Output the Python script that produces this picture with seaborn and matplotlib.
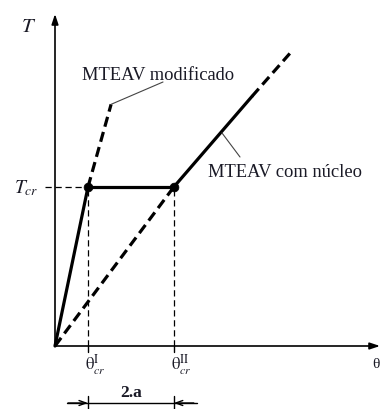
import matplotlib
matplotlib.use("Agg")
import matplotlib.pyplot as plt
import seaborn as sns
import pandas as pd

# Critical rotations / torque (normalised units)
theta_cr = [1.0, 3.6]          # θ_cr^I, θ_cr^II
T_cr = 1.0

# Modified MTEAV: solid branch up to T_cr, dashed continuation
mod_solid_theta = [0.0, 1.0]
mod_solid_T = [0.0, 1.0]
mod_dash_theta = [1.0, 1.70]
mod_dash_T = [1.0, 1.52]

# MTEAV with core: dashed elastic branch, plateau, solid and dashed continuation
core_dash_theta = [0.0, 3.6]
core_dash_T = [0.0, 1.0]
plateau_theta = [1.0, 3.6]
plateau_T = [1.0, 1.0]
core_solid_theta = [3.6, 5.97]
core_solid_T = [1.0, 1.57]
core_tail_theta = [5.97, 7.18]
core_tail_T = [1.57, 1.855]

sns.set_style("white")
plt.rcParams["font.family"] = ["Liberation Serif", "DejaVu Serif"]
plt.rcParams["mathtext.fontset"] = "stix"

W, H = 382, 410
fig = plt.figure(figsize=(W / 100, H / 100), dpi=100)
ax = fig.add_axes([0, 0, 1, 1])
# scale: 33 px per θ unit, 159 px per T unit, origin at pixel (55, 347)
ax.set_xlim(-55 / 33, (W - 55) / 33)
ax.set_ylim((347 - H) / 159, 347 / 159)
ax.axis("off")

txt = "#1a1a26"
lw = 2.3
dash_thick = (3.2, 1.7)

def seg(x, y, dashed=False):
    df = pd.DataFrame({"theta": x, "T": y})
    sns.lineplot(data=df, x="theta", y="T", ax=ax, color="black",
                 lw=lw, sort=False, estimator=None)
    if dashed:
        ax.lines[-1].set_dashes(dash_thick)
        ax.lines[-1].set_dash_capstyle("butt")

seg(mod_solid_theta, mod_solid_T)
seg(mod_dash_theta, mod_dash_T, dashed=True)
seg(core_dash_theta, core_dash_T, dashed=True)
seg(plateau_theta, plateau_T)
seg(core_solid_theta, core_solid_T)
seg(core_tail_theta, core_tail_T, dashed=True)

# critical points
pts = pd.DataFrame({"theta": theta_cr, "T": [T_cr, T_cr]})
sns.scatterplot(data=pts, x="theta", y="T", ax=ax, color="black", s=40,
                edgecolor="black", zorder=5)

# axes with arrow heads
arrow_kw = dict(arrowstyle="-|>,head_length=0.6,head_width=0.2",
                color="black", lw=1.2, shrinkA=0, shrinkB=0)
ax.annotate("", xy=(0, (347 - 15) / 159), xytext=(0, 0), arrowprops=arrow_kw)
ax.annotate("", xy=((380 - 55) / 33, 0), xytext=(0, 0), arrowprops=arrow_kw)

# guide lines
thin = dict(color="black", lw=0.9, dashes=(5, 3))
for th in theta_cr:
    ax.plot([th, th], [0, T_cr], **thin)
    ax.plot([th, th], [0, -6 / 159], color="black", lw=1.0)
ax.plot([-10 / 33, theta_cr[0]], [T_cr, T_cr], **thin)

# axis labels
ax.text(-26 / 33, (347 - 28) / 159, "$T$", fontsize=15, color=txt,
        ha="center", va="center")
ax.text(-29 / 33, T_cr, "$T_{cr}$", fontsize=14, color=txt,
        ha="center", va="center")
ax.text(theta_cr[0] + 7 / 33, -18 / 159, "$\\mathrm{θ}^{\\mathrm{I}}_{cr}$",
        fontsize=12, color=txt, ha="center", va="center")
ax.text(theta_cr[1] + 7 / 33, -18 / 159, "$\\mathrm{θ}^{\\mathrm{II}}_{cr}$",
        fontsize=12, color=txt, ha="center", va="center")
ax.text((372 - 55) / 33, -18 / 159, "θ", fontsize=11, color=txt,
        ha="left", va="center")

# curve labels with leaders
ax.text((82 - 55) / 33, (347 - 75) / 159, "MTEAV modificado", fontsize=13.3,
        color=txt, ha="left", va="center")
ax.plot([mod_dash_theta[1], (163 - 55) / 33], [mod_dash_T[1], (347 - 83) / 159],
        color="#444444", lw=0.8)
ax.text((208 - 55) / 33, (347 - 173) / 159, "MTEAV com núcleo", fontsize=13.3,
        color=txt, ha="left", va="center")
ax.plot([(222 - 55) / 33, (240 - 55) / 33], [(347 - 134) / 159, (347 - 158) / 159],
        color="#444444", lw=0.8)

# dimension 2.a between critical rotations
ydim = (347 - 404) / 159
ax.plot([(67 - 55) / 33, (197 - 55) / 33], [ydim, ydim], color="black", lw=1.0)
for th, sgn in zip(theta_cr, [-1, 1]):
    ax.plot([th, th], [(347 - 397) / 159, (347 - 412) / 159], color="black", lw=1.0)
    ax.annotate("", xy=(th, ydim), xytext=(th + sgn * 20 / 33, ydim),
                arrowprops=dict(arrowstyle="->,head_length=0.5,head_width=0.18",
                                color="black", lw=1.0, shrinkA=0, shrinkB=0))
ax.text((theta_cr[0] + theta_cr[1]) / 2, (347 - 393) / 159, "2.a", fontsize=12.5,
        fontweight="bold", color=txt, ha="center", va="center")

fig.savefig("out.png", dpi=100, facecolor="white")
